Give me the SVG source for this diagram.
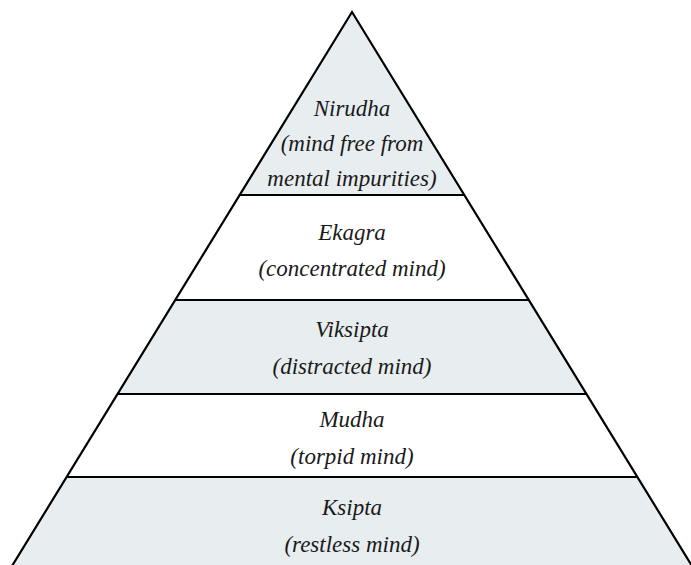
<svg xmlns="http://www.w3.org/2000/svg" width="691" height="565" viewBox="0 0 691 565">
<rect width="691" height="565" fill="#ffffff"/>
<g id="level-nirudha">
<polygon fill="#e8edf0" points="352,12 239.5,195 464.5,195"/>
<text x="352" y="116" font-family="Liberation Serif" font-style="italic" font-size="23" fill="#1a1a1a" text-anchor="middle">Nirudha</text>
<text x="352" y="151" font-family="Liberation Serif" font-style="italic" font-size="23" fill="#1a1a1a" text-anchor="middle">(mind free from</text>
<text x="352" y="186" font-family="Liberation Serif" font-style="italic" font-size="23" fill="#1a1a1a" text-anchor="middle">mental impurities)</text>
</g>
<g id="level-ekagra">
<polygon fill="#ffffff" points="239.5,195 464.5,195 529,300 175,300"/>
<text x="352" y="240" font-family="Liberation Serif" font-style="italic" font-size="23" fill="#1a1a1a" text-anchor="middle">Ekagra</text>
<text x="352" y="276" font-family="Liberation Serif" font-style="italic" font-size="23" fill="#1a1a1a" text-anchor="middle">(concentrated mind)</text>
</g>
<g id="level-viksipta">
<polygon fill="#e8edf0" points="175,300 529,300 587,394 117,394"/>
<text x="352" y="337" font-family="Liberation Serif" font-style="italic" font-size="23" fill="#1a1a1a" text-anchor="middle">Viksipta</text>
<text x="352" y="374" font-family="Liberation Serif" font-style="italic" font-size="23" fill="#1a1a1a" text-anchor="middle">(distracted mind)</text>
</g>
<g id="level-mudha">
<polygon fill="#ffffff" points="117,394 587,394 638,477 66,477"/>
<text x="352" y="427" font-family="Liberation Serif" font-style="italic" font-size="23" fill="#1a1a1a" text-anchor="middle">Mudha</text>
<text x="352" y="464" font-family="Liberation Serif" font-style="italic" font-size="23" fill="#1a1a1a" text-anchor="middle">(torpid mind)</text>
</g>
<g id="level-ksipta">
<polygon fill="#e8edf0" points="66,477 638,477 692,565 12,565"/>
<text x="352" y="515" font-family="Liberation Serif" font-style="italic" font-size="23" fill="#1a1a1a" text-anchor="middle">Ksipta</text>
<text x="352" y="552" font-family="Liberation Serif" font-style="italic" font-size="23" fill="#1a1a1a" text-anchor="middle">(restless mind)</text>
</g>
<g id="connectors" stroke="#000" stroke-width="2.2" fill="none">
<polyline points="12,566 352,12 692,566"/>
<line x1="239.5" y1="195" x2="464.5" y2="195"/>
<line x1="175" y1="300" x2="529" y2="300"/>
<line x1="117" y1="394" x2="587" y2="394"/>
<line x1="66" y1="477" x2="638" y2="477"/>
</g>
</svg>
